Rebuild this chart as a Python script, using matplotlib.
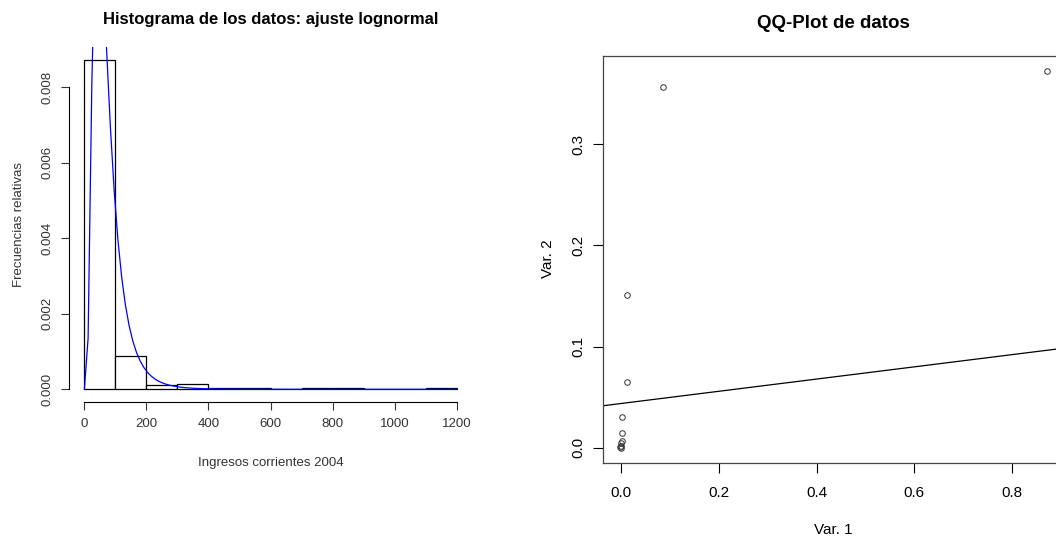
import numpy as np
import matplotlib
matplotlib.use('Agg')
import matplotlib.pyplot as plt

plt.rcParams['font.family'] = ['Liberation Sans', 'DejaVu Sans']

# histograma: cortes de 100 en 100 y densidad de cada clase
bin_edges = [0, 100, 200, 300, 400, 500, 600, 700, 800, 900, 1000, 1100, 1200]
densidades = [0.00873, 0.00087, 0.00012, 0.00014, 0.00003, 0.00003,
              0.0, 0.00003, 0.00003, 0.0, 0.0, 0.00003]
# parametros del ajuste lognormal
meanlog = 4.12
sdlog = 0.60

# datos del QQ-plot
var1 = [0.871, 0.0871, 0.0122, 0.0122, 0.002, 0.002, 0.002, 0.001, 0.0, -0.001, 0.0]
var2 = [0.3728, 0.357, 0.151, 0.0648, 0.030, 0.014, 0.007, 0.0045, 0.002, 0.001, 0.0]
# recta de referencia
qq_a = 0.0436
qq_b = 0.0605


def dlnorm(x, mu, s):
    out = np.zeros_like(x)
    pos = x > 0
    out[pos] = np.exp(-(np.log(x[pos]) - mu) ** 2 / (2 * s ** 2)) / (x[pos] * s * np.sqrt(2 * np.pi))
    return out


def rango_r(vals):
    lo, hi = min(vals), max(vals)
    d = 0.04 * (hi - lo)
    return lo - d, hi + d


fig = plt.figure(figsize=(10.56, 5.37), dpi=100)

# ---------------- histograma ----------------
ax1 = fig.add_axes([0.0658, 0.2505, 0.3808, 0.6629])
ancho = np.diff(bin_edges)
ax1.bar(bin_edges[:-1], densidades, width=ancho, align='edge',
        facecolor='white', edgecolor='black', linewidth=0.9)
ax1.set_xlim(rango_r(bin_edges))
ax1.set_ylim(rango_r([0] + densidades))

xs = np.linspace(bin_edges[0], bin_edges[-1], 101)
ax1.plot(xs, dlnorm(xs, meanlog, sdlog), color='#0000ff', lw=0.9)

for s in ['top', 'right']:
    ax1.spines[s].set_visible(False)
ax1.spines['left'].set_bounds(0, 0.008)
ax1.spines['bottom'].set_bounds(0, 1200)
ax1.set_xticks([0, 200, 400, 600, 800, 1000, 1200])
ax1.set_yticks([0.0, 0.002, 0.004, 0.006, 0.008])
ax1.set_yticklabels(['0.000', '0.002', '0.004', '0.006', '0.008'],
                    rotation=90, va='center')
ax1.tick_params(length=5.5, width=0.8, labelsize=9.5, colors='#333333', pad=6)
ax1.set_title('Histograma de los datos: ajuste lognormal', fontsize=12,
              fontweight='bold', pad=16)
ax1.set_xlabel('Ingresos corrientes 2004', fontsize=9.5, color='#333333', labelpad=19)
ax1.set_ylabel('Frecuencias relativas', fontsize=9.5, color='#333333', labelpad=12)

# ---------------- QQ-plot ----------------
ax2 = fig.add_axes([0.5713, 0.1384, 0.4363, 0.7579])
ax2.plot(var1, var2, ls='', marker='o', ms=4.0, mfc='none', mec='#333333', mew=0.7)
ax2.set_xlim(rango_r(var1))
ax2.set_ylim(rango_r(var2))
ax2.axline((0, qq_a), slope=qq_b, color='black', lw=0.9)

for s in ax2.spines.values():
    s.set_color('#444444')
    s.set_linewidth(0.9)
ax2.set_xticks([0.0, 0.2, 0.4, 0.6, 0.8])
ax2.set_xticklabels(['0.0', '0.2', '0.4', '0.6', '0.8'])
ax2.set_yticks([0.0, 0.1, 0.2, 0.3])
ax2.set_yticklabels(['0.0', '0.1', '0.2', '0.3'], rotation=90, va='center')
ax2.tick_params(axis='x', length=7, width=0.8, labelsize=11, pad=10)
ax2.tick_params(axis='y', length=7, width=0.8, labelsize=11, pad=6)
ax2.set_title('QQ-Plot de datos', fontsize=13.5, fontweight='bold', pad=20)
ax2.set_xlabel('Var. 1', fontsize=11, labelpad=16)
ax2.set_ylabel('Var. 2', fontsize=11, labelpad=12)

fig.savefig('out.png', dpi=100)
